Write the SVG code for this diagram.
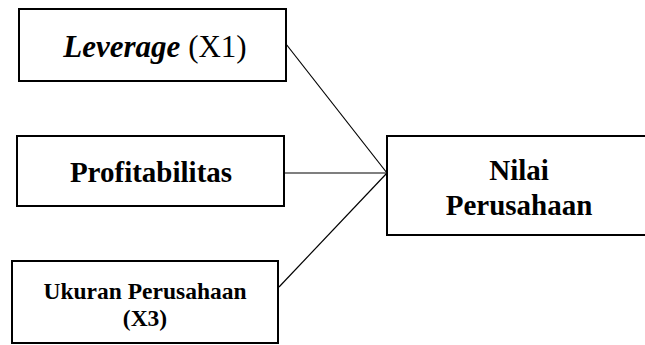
<svg xmlns="http://www.w3.org/2000/svg" width="645" height="345" viewBox="0 0 645 345">
<style>
.box{fill:#fff;stroke:#000;stroke-width:2}
.t{font-family:'Liberation Serif','Times New Roman',serif;font-weight:bold;fill:#000;text-anchor:middle}
.c{stroke:#000;stroke-width:1.2;fill:none}
</style>
<rect width="645" height="345" fill="#fff"/>
<g id="connectors">
<line class="c" x1="286" y1="44" x2="387" y2="173"/>
<line class="c" x1="284" y1="173" x2="387" y2="173"/>
<line class="c" x1="279" y1="287" x2="387" y2="173"/>
</g>
<g id="leverage">
<rect class="box" x="19" y="9" width="267" height="72"/>
<text class="t" x="155" y="57" font-size="31"><tspan font-style="italic">Leverage</tspan><tspan font-weight="normal"> (X1)</tspan></text>
</g>
<g id="profitabilitas">
<rect class="box" x="17" y="136" width="267" height="70"/>
<text class="t" x="151" y="182" font-size="29">Profitabilitas</text>
</g>
<g id="ukuran">
<rect class="box" x="12" y="261" width="266" height="82"/>
<text class="t" x="145" y="299" font-size="23.5">Ukuran Perusahaan</text>
<text class="t" x="145" y="326" font-size="23.5">(X3)</text>
</g>
<g id="nilai">
<rect class="box" x="387" y="136" width="262" height="99"/>
<text class="t" x="519" y="180" font-size="29">Nilai</text>
<text class="t" x="519" y="215" font-size="29">Perusahaan</text>
</g>
</svg>
